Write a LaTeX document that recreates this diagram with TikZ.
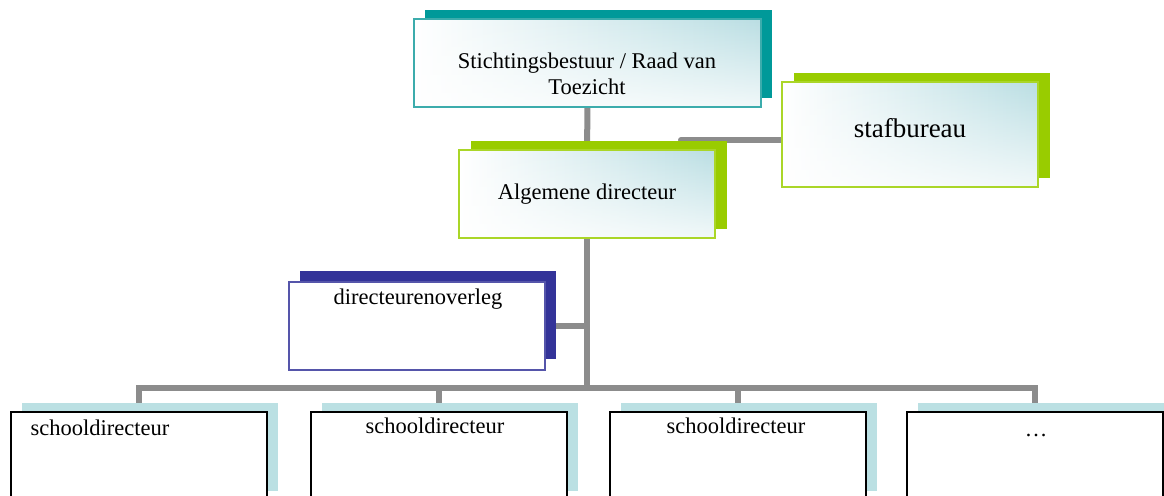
\documentclass[tikz,border=0pt]{standalone}
\usepackage{fontspec}
\setmainfont{Liberation Serif}
\usetikzlibrary{positioning,shadows,backgrounds,fadings}
\definecolor{tealshadow}{RGB}{0,153,153}
\definecolor{tealframe}{RGB}{60,172,172}
\definecolor{greenshadow}{RGB}{153,204,0}
\definecolor{greenframe}{RGB}{170,214,40}
\definecolor{blueshadow}{RGB}{51,51,153}
\definecolor{blueframe}{RGB}{85,85,170}
\definecolor{paleshadow}{RGB}{187,224,227}
\definecolor{shadeblue}{RGB}{186,222,227}
\definecolor{linkgray}{RGB}{140,140,140}
\tikzset{
    unit box/.style = {draw, line width=1pt, inner sep=0pt,
        minimum width=128pt, minimum height=44pt},
    shaded box/.style = {unit box, draw=#1, left color=white, right color=shadeblue,
        postaction={fill=white, path fading=north, fill opacity=.8},
        postaction={draw=#1, line width=1pt}},
    teal box/.style = {shaded box=tealframe,
        general shadow={fill=tealshadow, shadow xshift=5.5pt, shadow yshift=4.5pt}},
    green box/.style = {shaded box=greenframe,
        general shadow={fill=greenshadow, shadow xshift=6pt, shadow yshift=4.5pt}},
    blue box/.style = {unit box, fill=white, draw=blueframe,
        general shadow={fill=blueshadow, shadow xshift=5.5pt, shadow yshift=5.5pt}},
    school box/.style = {unit box, fill=white, draw=black,
        general shadow={fill=paleshadow, shadow xshift=5.5pt, shadow yshift=4.5pt}},
    txt/.style = {inner sep=0pt, font=\fontsize{11.25}{13}\selectfont},
    link/.style = {draw=linkgray, line width=3pt}
}
\begin{document}
\begin{tikzpicture}[x=0.5pt, y=-0.5pt]
    \useasboundingbox (0,0) rectangle (1164,496);

    % management
    \node[teal box, minimum width=173.5pt] (top) at (587.5,63) {};
    \node[green box] (alg) at (587,194) {};
    \node[green box, minimum height=52.5pt] (staf) at (909.5,134.5) {};
    \node[blue box] (overleg) at (417,326) {};

    % schools
    \node[school box] (s1) at (139,456) {};
    \node[school box] (s2) at (439,456) {};
    \node[school box] (s3) at (737.5,456) {};
    \node[school box] (s4) at (1035,456) {};

    % texts
    \node[txt, align=center, anchor=north] (toptxt) at (587,52.5)
        {Stichtingsbestuur / Raad van\\Toezicht};
    \node[txt, anchor=base] (algtxt) at (587,200) {Algemene directeur};
    \node[txt, anchor=base, font=\fontsize{13.5}{16}\selectfont] (staftxt) at (910,138) {stafbureau};
    \node[txt, anchor=base] (overlegtxt) at (418,305) {directeurenoverleg};
    \node[txt, anchor=base] (s1txt) at (100,436) {schooldirecteur};
    \node[txt, anchor=base] (s2txt) at (435,434) {schooldirecteur};
    \node[txt, anchor=base] (s3txt) at (736,434) {schooldirecteur};
    \node[txt, anchor=base] (s4txt) at (1036,437) {\dots};

    % connectors
    \coordinate (bus) at (587,388.5);
    \coordinate (stafstart) at (681,140);
    \begin{scope}[on background layer]
        \draw[link] (top) -- (alg);
        \draw[link] (alg.south) -- (bus);
        \draw[link] (s1.north) |- (bus) -| (s4.north);
        \draw[link] (s2.north) -- (s2.north |- bus);
        \draw[link] (s3.north) -- (s3.north |- bus);
        \draw[link] (overleg.east) -- (overleg.east -| alg.south);
        \draw[link, line cap=round] (stafstart) -- (stafstart -| staf.west);
    \end{scope}
\end{tikzpicture}
\end{document}
